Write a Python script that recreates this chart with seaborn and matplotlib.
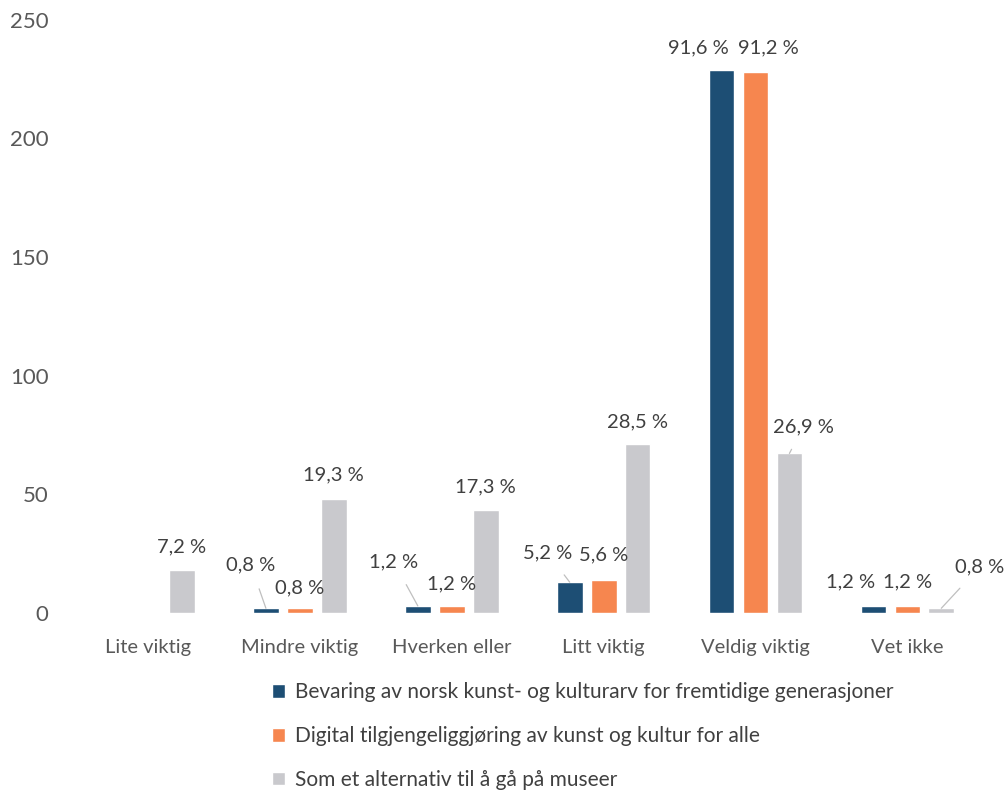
import numpy as np
import pandas as pd
import matplotlib
matplotlib.use("Agg")
import matplotlib.pyplot as plt
import seaborn as sns

# Survey answers: share of respondents (percent), N = 250
categories = ["Lite viktig", "Mindre viktig", "Hverken eller", "Litt viktig", "Veldig viktig", "Vet ikke"]
series = [
    "Bevaring av norsk kunst- og kulturarv for fremtidige generasjoner",
    "Digital tilgjengeliggjøring av kunst og kultur for alle",
    "Som et alternativ til å gå på museer",
]
pct_bevaring = [np.nan, 0.8, 1.2, 5.2, 91.6, 1.2]
pct_digital = [np.nan, 0.8, 1.2, 5.6, 91.2, 1.2]
pct_alternativ = [7.2, 19.3, 17.3, 28.5, 26.9, 0.8]
n_respondents = 250
y_ticks = [0, 50, 100, 150, 200, 250]

colors = ["#1d4e74", "#f6864f", "#c9c9cd"]
text_color = "#404040"
tick_color = "#595959"

rows = []
for s, vals in zip(series, [pct_bevaring, pct_digital, pct_alternativ]):
    for c, p in zip(categories, vals):
        if not np.isnan(p):
            rows.append({"kategori": c, "serie": s, "pct": p,
                         "antall": p / 100 * n_respondents})
df = pd.DataFrame(rows)

sns.set_theme(style="white")
plt.rcParams["font.family"] = ["Lato", "DejaVu Sans"]

fig = plt.figure(figsize=(10.07, 7.92), dpi=100)
ax = fig.add_axes([0.0715, 0.226, 0.905, 0.749])

sns.barplot(data=df, x="kategori", y="antall", hue="serie", order=categories,
            hue_order=series, palette=colors, width=0.67, gap=0.24,
            errorbar=None, saturation=1, legend=True, ax=ax)

ax.set_ylim(0, 250)
ax.set_yticks(y_ticks)
ax.set_xlim(-0.5, len(categories) - 0.5)
ax.set_xlabel("")
ax.set_ylabel("")
sns.despine(ax=ax, left=True, bottom=True)
ax.tick_params(axis="both", length=0, colors=tick_color)
ax.tick_params(axis="x", pad=19, labelsize=14.5)
ax.tick_params(axis="y", pad=17, labelsize=16)

# label placement (pixel offsets of the label centre from the bar top) and leader lines
label_style = {
    (0, 2): (0, 23, False),
    (1, 0): (-15, 43, True), (1, 1): (0, 20, False), (1, 2): (0, 24, False),
    (2, 0): (-24, 44, True), (2, 1): (0, 22, False), (2, 2): (0, 24, False),
    (3, 0): (-22, 29, True), (3, 1): (0, 25, False), (3, 2): (0, 22, False),
    (4, 0): (-23, 22, False), (4, 1): (13, 24, False), (4, 2): (14, 27, True),
    (5, 0): (-23, 24, False), (5, 1): (0, 24, False), (5, 2): (38, 41, True),
}
pct_by_series = [pct_bevaring, pct_digital, pct_alternativ]
for si, container in enumerate(ax.containers):
    for bar in container:
        h = bar.get_height()
        xc = bar.get_x() + bar.get_width() / 2
        ci = int(round(xc))
        p = pct_by_series[si][ci]
        dx, dy, leader = label_style[(ci, si)]
        txt = f"{p:.1f}".replace(".", ",") + " %"
        arrow = dict(arrowstyle="-", color="#bfbfbf", lw=0.9,
                     shrinkA=9, shrinkB=0) if leader else None
        ax.annotate(txt, xy=(xc, h), xytext=(dx, dy), textcoords="offset pixels",
                    ha="center", va="center", fontsize=14.5, color=text_color,
                    arrowprops=arrow)

handles, labels = ax.get_legend_handles_labels()
ax.get_legend().remove()
fig.legend(handles, labels, loc="upper left", bbox_to_anchor=(0.270, 0.139),
           frameon=False, fontsize=15, labelcolor=text_color,
           handlelength=0.65, handleheight=0.65, handletextpad=0.45,
           labelspacing=1.15, borderaxespad=0, borderpad=0)

fig.savefig("out.png", dpi=100)
